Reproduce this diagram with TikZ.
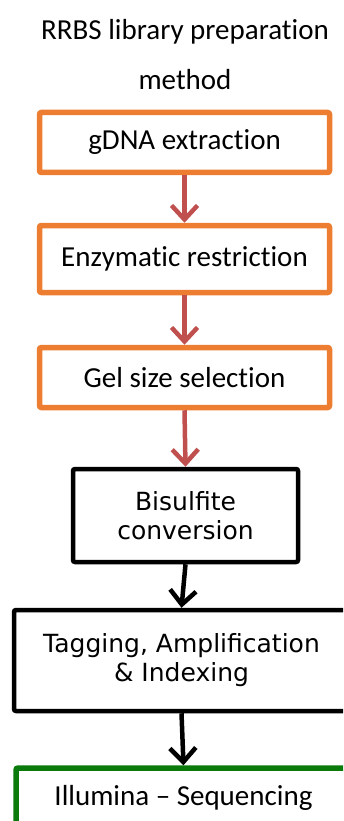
\documentclass[tikz,border=0pt]{standalone}
\usepackage{fontspec}
\setmainfont{Carlito}[Ligatures=NoCommon]
\newfontfamily\dejavu{DejaVu Sans}
\usetikzlibrary{arrows.meta}
\definecolor{boxorange}{HTML}{ED7D31}
\definecolor{arrred}{HTML}{C0504D}
\definecolor{boxgreen}{HTML}{0A7A0A}
\tikzset{
  obox/.style={draw=boxorange, line width=5.5pt, rounded corners=2pt, fill=white,
    minimum width=290pt, minimum height=60pt, inner sep=0pt,
    font=\fontsize{29}{32}\selectfont},
  kbox/.style={draw=black, line width=4.5pt, rounded corners=2pt, fill=white,
    inner sep=0pt, align=center, font=\dejavu\fontsize{25}{29}\selectfont},
  gbox/.style={draw=boxgreen, line width=5.5pt, rounded corners=2pt, fill=white,
    inner sep=0pt, font=\fontsize{29}{32}\selectfont},
  rarr/.style={draw=arrred, line width=4.5pt, -{Straight Barb[length=14pt,width=26pt]}},
  karr/.style={draw=black, line width=4.5pt, -{Straight Barb[length=14pt,width=26pt]}},
}
\begin{document}
\begin{tikzpicture}[x=1pt,y=-1pt]
\useasboundingbox (0,0) rectangle (343,821);
\clip (0,0) rectangle (343,821);
\node (title) at (185,55) [align=center, font=\fontsize{29}{50}\selectfont] {RRBS library preparation\\method};
\node[obox] (b1) at (184.5,142.5) {gDNA extraction};
\node[obox, minimum height=67pt] (b2) at (184.5,259) {Enzymatic restriction};
\node[obox] (b3) at (184.5,377.5) {Gel size selection};
\node[kbox, minimum width=225pt, minimum height=93pt] (b4) at (185.5,515.5) {Bisulfite\\conversion};
\node[kbox, minimum width=335pt, minimum height=101pt] (b5) at (181.5,660.5) {Tagging, Amplification\\\& Indexing};
\node[gbox, minimum width=335pt, minimum height=60pt] (b6) at (183.5,798) {Illumina -- Sequencing};
\draw[rarr] (b1.south) -- (b2.north);
\draw[rarr] (b2.south) -- (b3.north);
\draw[rarr] (b3.south) -- (b4.north);
\draw[karr] (b4.south) -- (b5.north);
\draw[karr] (b5.south) -- (b6.north);
\end{tikzpicture}
\end{document}
